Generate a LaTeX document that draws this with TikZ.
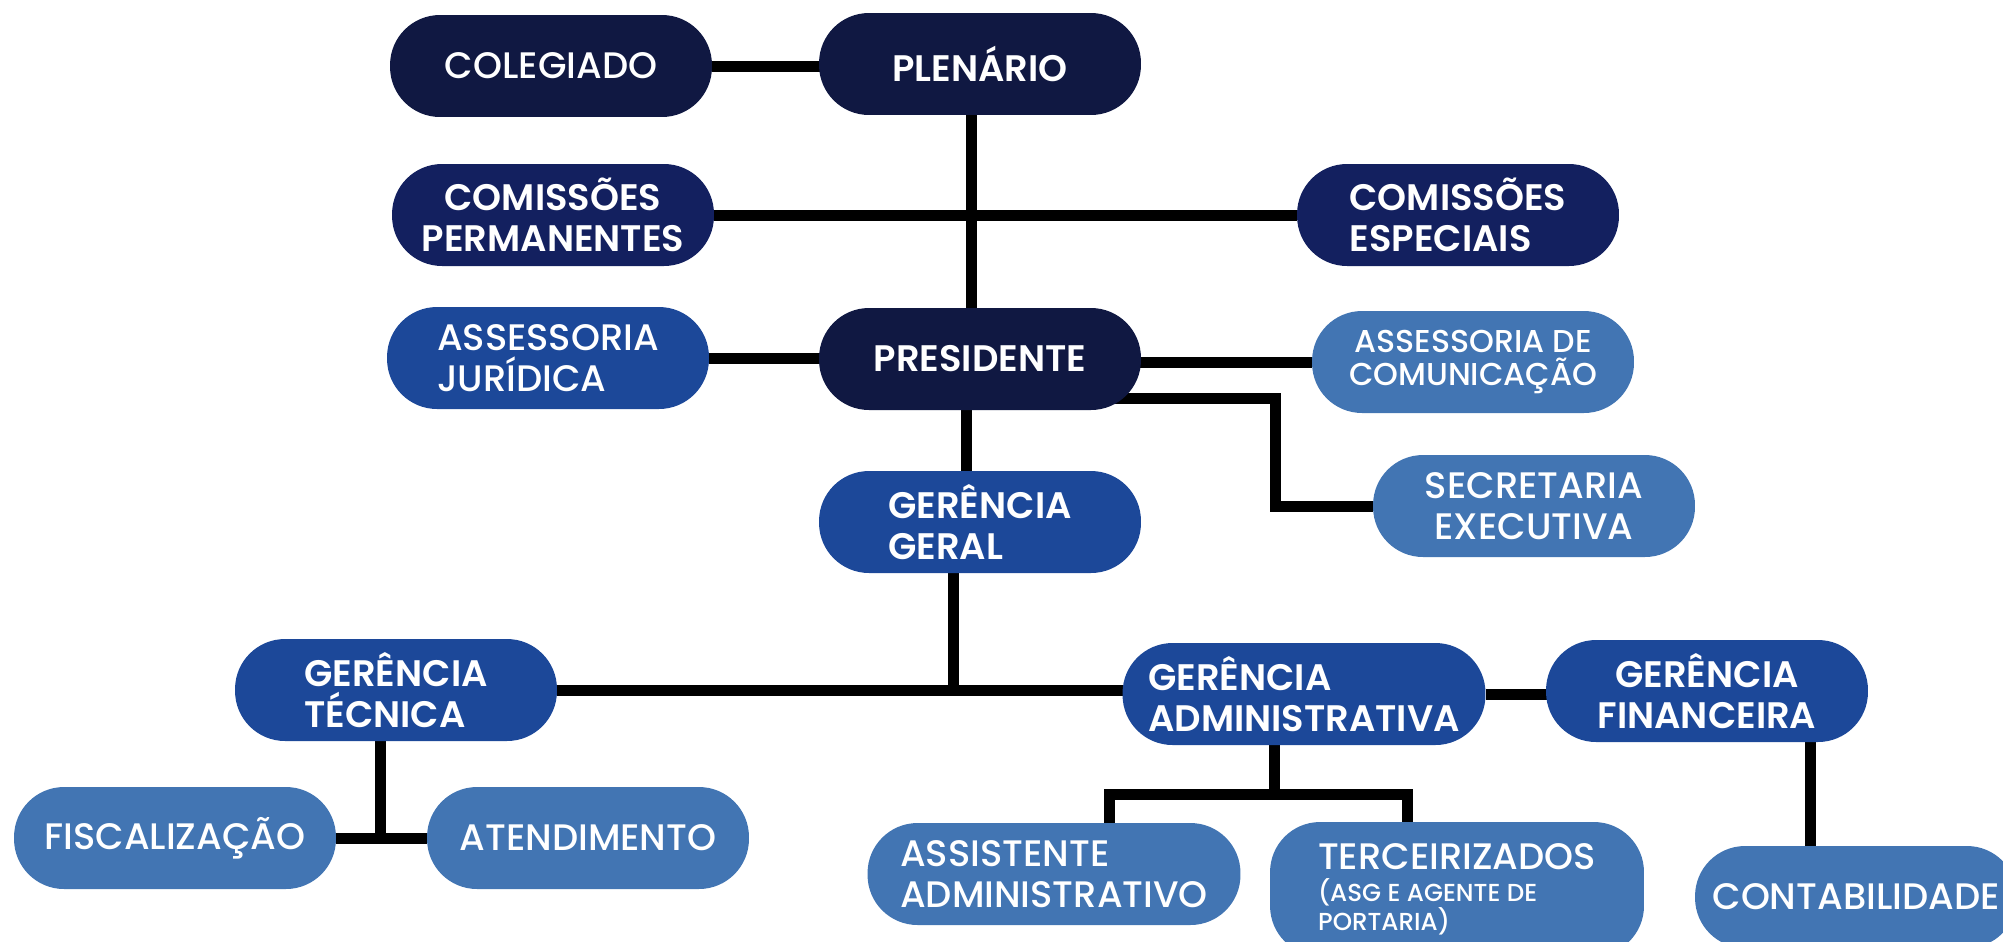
\documentclass[tikz,border=0pt]{standalone}
\usepackage{fontspec}
\setmainfont{Poppins}[UprightFont=* Medium, BoldFont=* SemiBold]
\usetikzlibrary{calc}
\definecolor{navydark}{RGB}{16,24,66}
\definecolor{navymid}{RGB}{19,32,95}
\definecolor{bluemid}{RGB}{28,72,153}
\definecolor{bluelight}{RGB}{66,117,179}
\pgfdeclarelayer{background}
\pgfsetlayers{background,main}
\newcommand{\subfont}{\fontsize{14}{16}\selectfont}

\begin{document}
\begin{tikzpicture}[x=0.02cm, y=-0.02cm,
        box/.style={rectangle, rounded corners=1cm, minimum width=6.44cm, minimum height=2.04cm, inner sep=0pt, text=white, align=left, font=\fontsize{21}{23}\selectfont},
        heavy/.style={font=\fontsize{21}{23}\selectfont\bfseries},
        small/.style={font=\fontsize{18}{19}\selectfont},
        link/.style={line width=0.22cm}
    ]
        \useasboundingbox (0,0) rectangle (2003,941);
        \clip (0,0) rectangle (2003,941);

        % Boxes
        \node[box, fill=navydark] (colegiado) at (551,66) {COLEGIADO};
        \node[box, heavy, fill=navydark] (plenario) at (980,64) {PLENÁRIO};
        \node[box, heavy, fill=navymid, align=center] (comperm) at (553,215) {COMISSÕES\\PERMANENTES};
        \node[box, heavy, fill=navymid] (comesp) at (1458,215) {COMISSÕES\\ESPECIAIS};
        \node[box, fill=bluemid] (assjur) at (548,358) {ASSESSORIA\\JURÍDICA};
        \node[box, heavy, fill=navydark] (presidente) at (980,359) {PRESIDENTE};
        \node[box, small, fill=bluelight, align=center] (asscom) at (1473,362) {ASSESSORIA DE\\COMUNICAÇÃO};
        \node[box, fill=bluelight, align=center] (secretaria) at (1534,506) {SECRETARIA\\EXECUTIVA};
        \node[box, heavy, fill=bluemid] (gergeral) at (980,522) {GERÊNCIA\\GERAL};
        \node[box, heavy, fill=bluemid] (gertec) at (396,690) {GERÊNCIA\\TÉCNICA};
        \node[box, heavy, fill=bluemid, minimum width=7.26cm] (geradm) at (1304,694) {GERÊNCIA\\ADMINISTRATIVA};
        \node[box, heavy, fill=bluemid, align=center] (gerfin) at (1707,691) {GERÊNCIA\\FINANCEIRA};
        \node[box, fill=bluelight] (fisc) at (175,838) {FISCALIZAÇÃO};
        \node[box, fill=bluelight] (atend) at (588,838) {ATENDIMENTO};
        \node[box, fill=bluelight, minimum width=7.46cm] (assist) at (1054,874) {ASSISTENTE\\ADMINISTRATIVO};
        \node[box, fill=bluelight, minimum width=7.48cm, minimum height=2.68cm] (terc) at (1457,889) {TERCEIRIZADOS\\[-5pt]{\subfont (ASG E AGENTE DE}\\[-6.5pt]{\subfont PORTARIA)}};
        \node[box, fill=bluelight] (contab) at (1856,897) {CONTABILIDADE};

        % Bends
        \coordinate (secbend) at (1275,398);
        \coordinate (gerjunc) at (953,690);
        \coordinate (admjunc) at (1274,794);
        \coordinate (admleft) at (1109,794);
        \coordinate (admright) at (1407,794);
        \coordinate (fintap) at (1810,691);
        \coordinate (tecjunc) at (380,838);

        % Links
        \begin{pgfonlayer}{background}
        \draw[link] (colegiado) -- (colegiado -| plenario);
        \draw[link] ($(plenario.center)+(-9,0)$) -- ($(presidente.center)+(-9,0)$);
        \draw[link] (comperm) -- (comesp);
        \draw[link] (assjur) -- (assjur -| presidente);
        \draw[link] (asscom) -- (asscom -| presidente);
        \draw[link] (presidente.center |- secbend) -- (secbend) |- (secretaria);
        \draw[link] ($(presidente.center)+(-14,0)$) -- ($(gergeral.center)+(-14,0)$);
        \draw[link] (gergeral.center -| gerjunc) -- (gerjunc);
        \draw[link] (gertec) -- (gertec -| geradm);
        \draw[link] (geradm) -- (geradm -| gerfin);
        \draw[link] (geradm.center -| admjunc) -- (admjunc);
        \draw[link] (admleft |- assist.center) -- (admleft) -- (admright) -- (admright |- terc.center);
        \draw[link] (fintap) -- (fintap |- contab.center);
        \draw[link] (gertec.center -| tecjunc) -- (tecjunc);
        \draw[link] (fisc) -- (atend);
        \end{pgfonlayer}
    \end{tikzpicture}
\end{document}
